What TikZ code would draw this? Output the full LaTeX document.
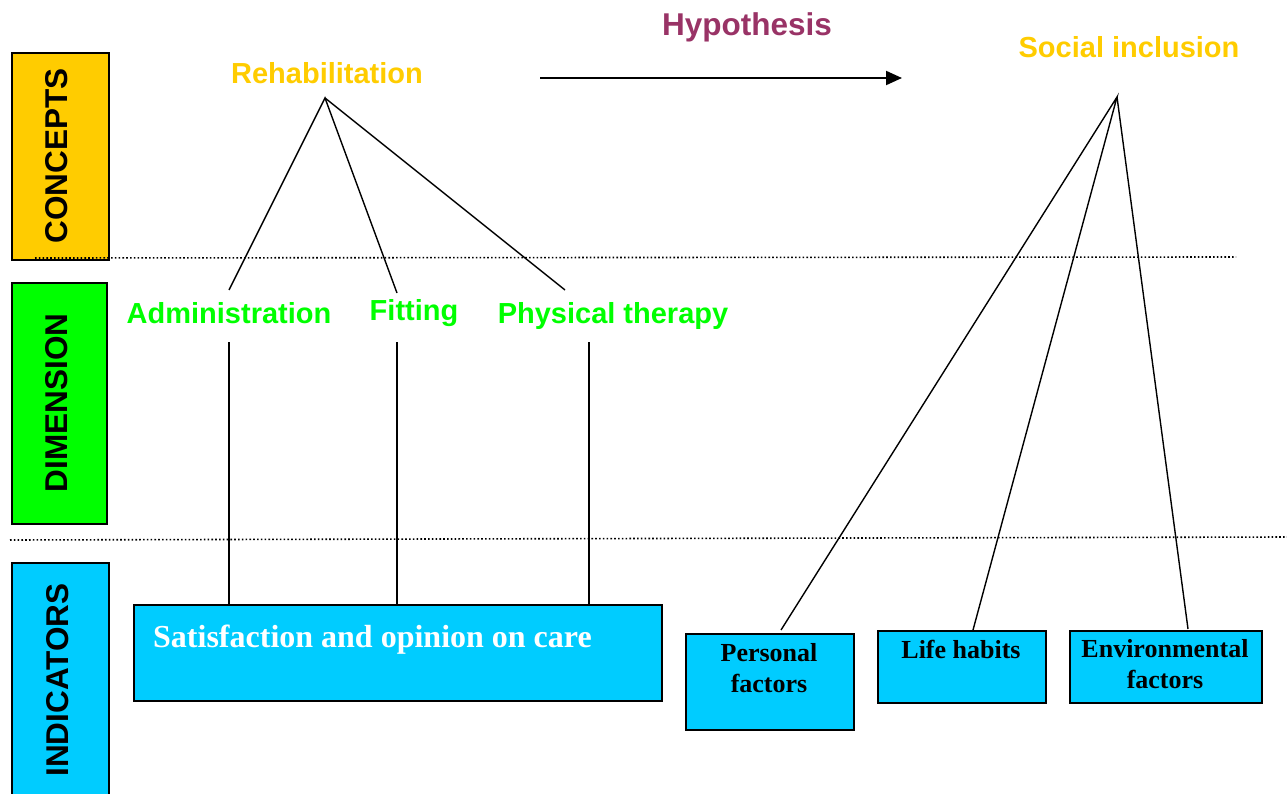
\documentclass[tikz,border=0pt]{standalone}
\usepackage{fontspec}
\setmainfont{Liberation Serif}
\setsansfont{Liberation Sans}
\usetikzlibrary{arrows.meta}
\definecolor{cyel}{HTML}{FFCC00}
\definecolor{cgrn}{HTML}{00FF00}
\definecolor{ccyan}{HTML}{00CCFF}
\definecolor{cpurp}{HTML}{993366}
\tikzset{
  side/.style={draw=black, line width=2pt},
  sidelabel/.style={rotate=90, font=\fontsize{31.5}{34}\selectfont\sffamily\bfseries, inner sep=0pt},
  concept/.style={text=cyel, font=\fontsize{29}{33}\selectfont\sffamily\bfseries, inner sep=0pt, anchor=base},
  dimlabel/.style={text=cgrn, font=\fontsize{29}{33}\selectfont\sffamily\bfseries, inner sep=0pt, anchor=base},
  indbox/.style={draw=black, line width=2pt, fill=ccyan},
  indtext/.style={font=\fontsize{26}{31}\selectfont\rmfamily\bfseries, inner sep=0pt, anchor=base, align=center},
  conn/.style={line width=1.4pt},
  sep/.style={line width=1.6pt, dash pattern=on 1.6pt off 2.2pt}
}
\begin{document}
\begin{tikzpicture}[x=1pt,y=-1pt]
\useasboundingbox (0,0) rectangle (1287,794);
% side bands
\filldraw[side, fill=cyel] (12,53) rectangle (109,260);
\filldraw[side, fill=cgrn] (12,283) rectangle (107,524);
\filldraw[side, fill=ccyan] (12,563) rectangle (109,800);
\node[sidelabel] (lc) at (57,156) {CONCEPTS};
\node[sidelabel] (ld) at (57,403) {DIMENSION};
\node[sidelabel] (li) at (58,680) {INDICATORS};
% separators
\coordinate (s1a) at (35,258); \coordinate (s1b) at (1236,257);
\coordinate (s2a) at (10,540); \coordinate (s2b) at (1287,537);
\draw[sep] (s1a) -- (s1b);
\draw[sep] (s2a) -- (s2b);
% concepts
\node[concept] (rehab) at (327,84) {Rehabilitation};
\node[concept] (social) at (1129,58) {Social inclusion};
\node[text=cpurp, font=\fontsize{31.5}{35}\selectfont\sffamily\bfseries, inner sep=0pt, anchor=base] (hyp) at (747,36) {Hypothesis};
\coordinate (ha) at (540,78); \coordinate (hb) at (902,78);
\draw[line width=2pt, -{Triangle[length=16pt,width=14pt]}] (ha) -- (hb);
% dimensions
\node[dimlabel] (adm) at (229,323) {Administration};
\node[dimlabel] (fit) at (414,320) {Fitting};
\node[dimlabel] (phy) at (613,323) {Physical therapy};
% apex and ends
\coordinate (rapex) at (325,98);
\coordinate (admtop) at (229,290);
\coordinate (fittop) at (397,293);
\coordinate (phytop) at (565,290);
\draw[conn] (admtop) -- (rapex) -- (fittop);
\draw[conn] (rapex) -- (phytop);
% satisfaction box
\node[indbox, minimum width=528pt, minimum height=96pt, anchor=north west, inner sep=0pt] (sat) at (133,604) {};
\node[text=white, font=\fontsize{32}{36}\selectfont\rmfamily\bfseries, inner sep=0pt, anchor=base west] (sattext) at (153,647) {Satisfaction and opinion on care};
\coordinate (admbot) at (229,342);
\coordinate (fitbot) at (397,342);
\coordinate (phybot) at (589,342);
\draw[conn] (admbot) -- (admbot |- sat.north);
\draw[conn] (fitbot) -- (fitbot |- sat.north);
\draw[conn] (phybot) -- (phybot |- sat.north);
% social indicator boxes
\node[indbox, minimum width=168pt, minimum height=96pt, anchor=north west, inner sep=0pt] (pers) at (685,633) {};
\node[indtext] (perst) at (769,692) {Personal\\factors};
\node[indbox, minimum width=168pt, minimum height=72pt, anchor=north west, inner sep=0pt] (life) at (877,630) {};
\node[indtext] (lifet) at (961,658) {Life habits};
\node[indbox, minimum width=192pt, minimum height=72pt, anchor=north west, inner sep=0pt] (env) at (1069,630) {};
\node[indtext] (envt) at (1165,688) {Environmental\\factors};
\coordinate (sapex) at (1117,97);
\coordinate (persend) at (781,630);
\coordinate (lifeend) at (973,630);
\coordinate (envend) at (1188,629);
\draw[conn] (persend) -- (sapex) -- (lifeend);
\draw[conn] (sapex) -- (envend);
\end{tikzpicture}
\end{document}
